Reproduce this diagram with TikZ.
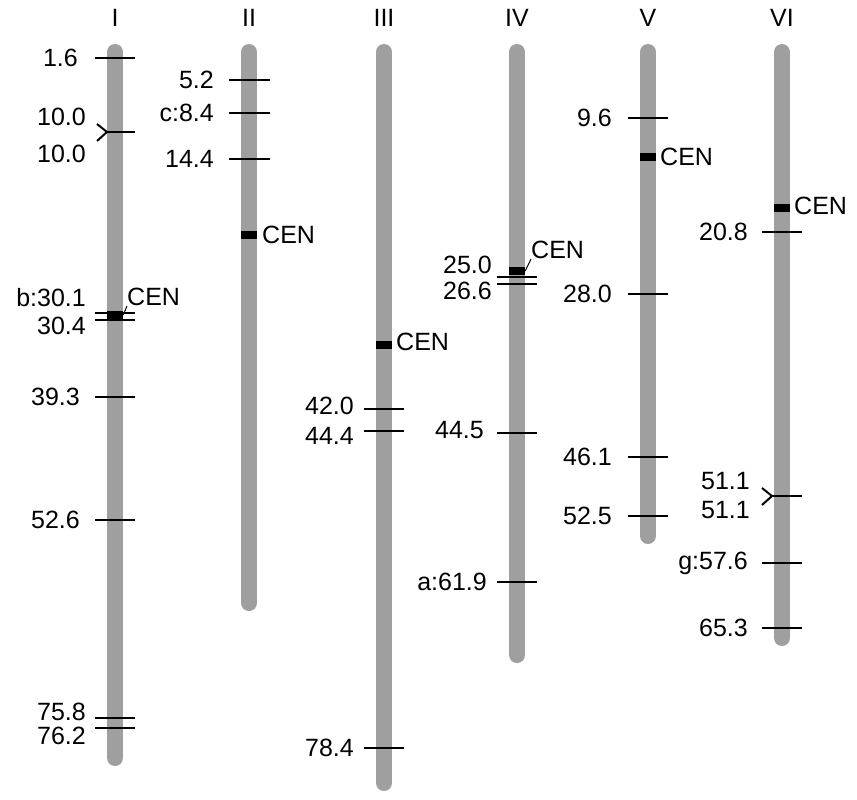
\documentclass[tikz,border=0pt]{standalone}
\usepackage{fontspec}
\setmainfont{Liberation Sans}
\begin{document}
\begin{tikzpicture}[x=1pt,y=-1pt,
  chrom/.style={line width=16pt,line cap=round,draw=gray!75},
  tk/.style={line width=2pt,black},
  lab/.style={font=\fontsize{25}{25}\selectfont,inner sep=0pt,anchor=east},
  ttl/.style={font=\fontsize{25}{25}\selectfont,inner sep=0pt},
  cen/.style={fill=black,minimum width=16pt,minimum height=8pt,inner sep=0pt},
  cl/.style={font=\fontsize{25}{25}\selectfont,inner sep=0pt,anchor=west}]
\useasboundingbox (0,0) rectangle (857,800);
\foreach \x/\b/\t in {115/758/I,249/603/II,384/783/III,517/655/IV,648/536/V,782/638/VI}{
  \draw[chrom] (\x,52) -- (\x,\b);
  \node[ttl] at (\x,18) {\t};}
% I
\draw[tk] (95,58)--(135,58); \node[lab] at (78,58){1.6};
\coordinate (c1) at (107,132);
\draw[tk] (97,124)--(c1)--(97,141); \draw[tk] (c1)--(135,132);
\node[lab] at (86,117){10.0}; \node[lab] at (86,154){10.0};
\draw[tk] (95,313)--(135,313); \draw[tk] (95,320)--(135,320);
\node[cen] (cenI) at (115,315){};
\node[cl] (lI) at (127,297){CEN}; \draw[tk,line width=1pt] (cenI.east)--(lI.south west);
\node[lab] at (86,298){b:30.1}; \node[lab] at (86,326){30.4};
\draw[tk] (95,397)--(135,397); \node[lab] at (80,397){39.3};
\draw[tk] (95,520)--(135,520); \node[lab] at (80,520){52.6};
\draw[tk] (95,718)--(135,718); \draw[tk] (95,728)--(135,728);
\node[lab] at (86,712){75.8}; \node[lab] at (86,736){76.2};
% II
\draw[tk] (229,80)--(270,80); \node[lab] at (214,80){5.2};
\draw[tk] (229,113)--(270,113); \node[lab] at (214,113){c:8.4};
\draw[tk] (229,159)--(270,159); \node[lab] at (214,159){14.4};
\node[cen] (cenII) at (249,235){}; \node[cl] at (262,235){CEN};
% III
\node[cen] (cenIII) at (384,345){}; \node[cl] at (396,342){CEN};
\draw[tk] (364,409)--(404,409); \node[lab] at (354,406){42.0};
\draw[tk] (364,431)--(404,431); \node[lab] at (354,436){44.4};
\draw[tk] (364,748)--(404,748); \node[lab] at (354,748){78.4};
% IV
\draw[tk] (497,277)--(537,277); \draw[tk] (497,284)--(537,284);
\node[cen] (cenIV) at (517,271){};
\node[cl] (lIV) at (531,250){CEN}; \draw[tk,line width=1pt] (cenIV.east)--(lIV.south west);
\node[lab] at (492,265){25.0}; \node[lab] at (492,291){26.6};
\draw[tk] (497,433)--(537,433); \node[lab] at (484,430){44.5};
\draw[tk] (497,582)--(537,582); \node[lab] at (487,582){a:61.9};
% V
\draw[tk] (628,118)--(668,118); \node[lab] at (612,118){9.6};
\node[cen] (cenV) at (648,157){}; \node[cl] at (660,157){CEN};
\draw[tk] (628,294)--(668,294); \node[lab] at (612,294){28.0};
\draw[tk] (628,457)--(668,457); \node[lab] at (612,457){46.1};
\draw[tk] (628,516)--(668,516); \node[lab] at (612,516){52.5};
% VI
\node[cen] (cenVI) at (782,208){}; \node[cl] at (794,206){CEN};
\draw[tk] (762,232)--(802,232); \node[lab] at (748,232){20.8};
\coordinate (c6) at (772,496);
\draw[tk] (762,488)--(c6)--(762,505); \draw[tk] (c6)--(802,496);
\node[lab] at (750,481){51.1}; \node[lab] at (750,510){51.1};
\draw[tk] (762,563)--(802,563); \node[lab] at (748,563){g:57.6};
\draw[tk] (762,628)--(802,628); \node[lab] at (748,628){65.3};
\end{tikzpicture}
\end{document}
